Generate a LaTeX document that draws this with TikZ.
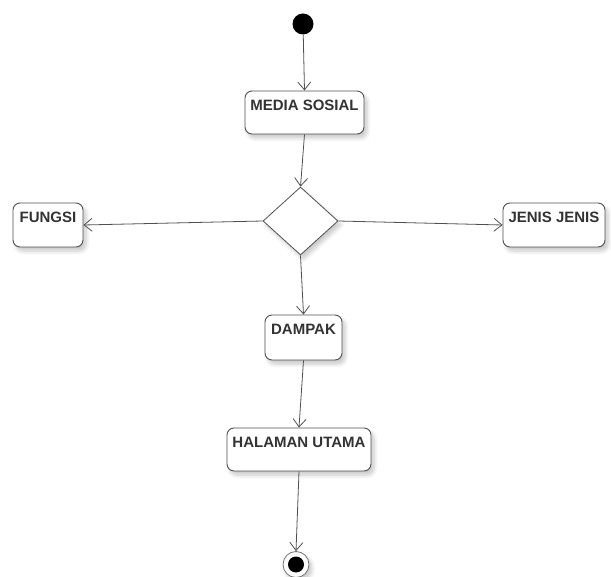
\documentclass[tikz,border=0pt]{standalone}
\usepackage{fontspec}
\setmainfont{Liberation Sans}
\usetikzlibrary{arrows.meta,shapes.geometric,shadows.blur}
\definecolor{edge}{HTML}{505050}
\definecolor{ink}{HTML}{333333}
\tikzset{
  soft/.style={blur shadow={shadow xshift=3pt, shadow yshift=-4pt,
      shadow blur radius=4pt, shadow blur steps=6, shadow opacity=22}},
  act/.style={draw=edge, line width=0.9pt, rounded corners=7pt, fill=white,
      soft, inner xsep=0pt, inner ysep=0pt, text height=19.5pt,
      minimum width=#1, font=\bfseries\fontsize{15}{15}\selectfont,
      text=ink, anchor=center},
  flow/.style={draw=edge, line width=0.8pt,
      -{Straight Barb[length=8pt,width=13pt,line width=0.8pt]}},
  decide/.style={diamond, draw=edge, line width=0.8pt, fill=white, soft,
      inner sep=0pt, minimum width=75pt, minimum height=68pt},
}
\begin{document}
\begin{tikzpicture}[x=1pt,y=-1pt]
  \useasboundingbox (0,0) rectangle (611,577);

  % initial node
  \node[circle, fill=black, inner sep=0pt, minimum size=21pt] (start) at (303,24) {};

  % activities
  \node[act=119pt, text depth=23.5pt] (media)   at (304.5,112.5) {MEDIA SOSIAL};
  \node[decide] (choice) at (300.5,221) {};
  \node[act=70pt,  text depth=24.5pt] (fungsi)  at (48,225)      {FUNGSI};
  \node[act=102pt, text depth=24.5pt] (jenis)   at (554,225)     {JENIS JENIS};
  \node[act=77pt,  text depth=25.5pt] (dampak)  at (303.5,337.5) {DAMPAK};
  \node[act=144pt, text depth=23.5pt] (halaman) at (299,449.5)   {HALAMAN UTAMA};

  % final node
  \node[circle, draw=edge!80, line width=0.8pt, fill=white, soft, inner sep=0pt,
        minimum size=26pt] (stop) at (296,564.5) {};
  \node[circle, fill=black, inner sep=0pt, minimum size=16pt] (stopdot) at (stop.center) {};

  % control flow
  \draw[flow] (start) -- (media.north);
  \draw[flow] (media.south) -- (choice.north);
  \draw[flow] (choice.west) -- (fungsi.east);
  \draw[flow] (choice.east) -- (jenis.west);
  \draw[flow] (choice.south) -- (dampak.north);
  \draw[flow] (dampak.south) -- (halaman.north);
  \draw[flow] (halaman.south) -- (stop.north);
\end{tikzpicture}
\end{document}
